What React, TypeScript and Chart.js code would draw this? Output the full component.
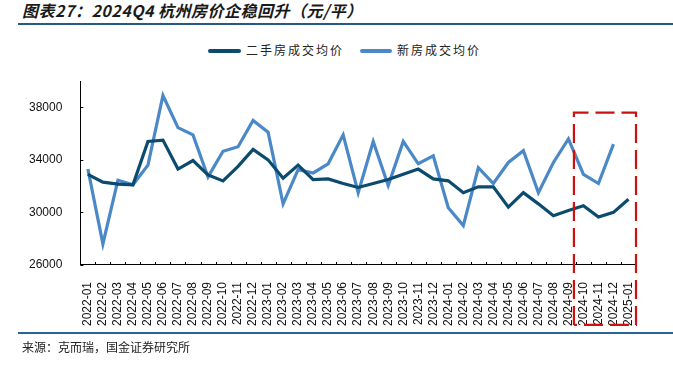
import React, { useEffect, useRef } from "react";
import { Chart, registerables } from "chart.js";

Chart.register(...registerables);

const months: string[] = [
  "2022-01", "2022-02", "2022-03", "2022-04", "2022-05", "2022-06", "2022-07", "2022-08", "2022-09", "2022-10", "2022-11", "2022-12",
  "2023-01", "2023-02", "2023-03", "2023-04", "2023-05", "2023-06", "2023-07", "2023-08", "2023-09", "2023-10", "2023-11", "2023-12",
  "2024-01", "2024-02", "2024-03", "2024-04", "2024-05", "2024-06", "2024-07", "2024-08", "2024-09", "2024-10", "2024-11", "2024-12",
  "2025-01",
];

const secondHand: number[] = [
  32900, 32300, 32150, 32100, 35400, 35500, 33300, 33950, 32850, 32400, 33500, 34800,
  34000, 32600, 33600, 32500, 32550, 32200, 31900, 32200, 32500, 32900, 33300, 32550,
  32400, 31500, 31950, 31950, 30400, 31500, 30650, 29750, 30150, 30500, 29650, 30000,
  31000,
];

const newHome: (number | null)[] = [
  33300, 27600, 32450, 32100, 33600, 38900, 36450, 35900, 32700, 34650, 35000, 37000,
  36100, 30650, 33250, 33000, 33700, 35900, 31500, 35400, 32050, 35400, 33700, 34300,
  30350, 29000, 33400, 32200, 33800, 34700, 31500, 33800, 35600, 32900, 32200, 35200,
  null,
];

const yTicks: number[] = [26000, 30000, 34000, 38000];
const seriesNames: string[] = ["二手房成交均价", "新房成交均价"];
const highlightFrom = "2024-10";
const highlightTopValue = 37600;

const DARK = "#0b4c6e";
const LIGHT = "#4a88c8";
const RED = "#cc1111";

const overlayPlugin = {
  id: "overlay",
  afterDraw(chart: any) {
    const ctx = chart.ctx;
    const xs = chart.scales.x;
    const ys = chart.scales.y;
    const area = chart.chartArea;
    const n = months.length;
    const w = (xs.right - xs.left) / n;
    ctx.save();
    ctx.strokeStyle = "#000";
    ctx.lineWidth = 1;
    ctx.beginPath();
    for (let i = 1; i <= n; i++) {
      const x = Math.round(xs.getPixelForValue(i - 1) + w / 2) + 0.5;
      ctx.moveTo(x, area.bottom);
      ctx.lineTo(x, area.bottom - 3);
    }
    for (const v of yTicks) {
      const y = Math.round(ys.getPixelForValue(v)) + 0.5;
      ctx.moveTo(area.left, y);
      ctx.lineTo(area.left + 3, y);
    }
    ctx.stroke();

    const idx = months.indexOf(highlightFrom);
    const left = (xs.getPixelForValue(idx - 1) + xs.getPixelForValue(idx)) / 2 - 2;
    const right = area.right;
    const top = ys.getPixelForValue(highlightTopValue);
    const bottom = area.bottom + 60;
    ctx.strokeStyle = RED;
    ctx.lineWidth = 2.2;
    ctx.setLineDash([19, 7]);
    ctx.beginPath();
    ctx.moveTo(left, bottom);
    ctx.lineTo(left, top);
    ctx.lineTo(right, top);
    ctx.lineTo(right, bottom);
    ctx.lineTo(left, bottom);
    ctx.stroke();
    ctx.restore();
  },
};

function ChartCanvas() {
  const ref = useRef<HTMLCanvasElement | null>(null);
  useEffect(() => {
    if (!ref.current) return;
    const chart = new Chart(ref.current, {
      type: "line",
      data: {
        labels: months,
        datasets: [
          {
            label: seriesNames[0],
            data: secondHand,
            borderColor: DARK,
            backgroundColor: DARK,
            borderWidth: 3.2,
            pointRadius: 0,
            tension: 0,
          },
          {
            label: seriesNames[1],
            data: newHome,
            borderColor: LIGHT,
            backgroundColor: LIGHT,
            borderWidth: 3.2,
            pointRadius: 0,
            tension: 0,
          },
        ],
      },
      options: {
        animation: false,
        responsive: false,
        devicePixelRatio: 1,
        layout: { padding: { left: 19, right: 37, top: 81, bottom: 33 } },
        plugins: { legend: { display: false }, tooltip: { enabled: false }, title: { display: false } },
        scales: {
          x: {
            type: "category",
            offset: true,
            grid: { display: false },
            border: { display: true, color: "#000", width: 1 },
            ticks: {
              autoSkip: false,
              minRotation: 90,
              maxRotation: 90,
              padding: 9,
              color: "#111",
              font: { family: "'Liberation Sans', Arial, sans-serif", size: 12 },
            },
          },
          y: {
            min: 26000,
            max: 40000,
            grid: { display: false },
            border: { display: true, color: "#000", width: 1 },
            afterBuildTicks: (scale: any) => {
              scale.ticks = yTicks.map((v) => ({ value: v }));
            },
            ticks: {
              padding: 10,
              color: "#111",
              font: { family: "'Liberation Sans', Arial, sans-serif", size: 12 },
              callback: (v: any) => String(v),
            },
          },
        },
      },
      plugins: [overlayPlugin],
    });
    return () => chart.destroy();
  }, []);
  return (
    <canvas
      ref={ref}
      width={673}
      height={368}
      style={{ position: "absolute", left: 0, top: 0, width: 673, height: 368 }}
    />
  );
}

export default function App() {
  const cjk = "'Noto Sans CJK SC', sans-serif";
  return (
    <div
      style={{
        position: "fixed",
        left: 0,
        top: 0,
        width: 673,
        height: 368,
        background: "#fff",
        overflow: "hidden",
      }}
    >
      <div
        style={{
          position: "absolute",
          left: 22,
          top: 0,
          fontFamily: cjk,
          fontWeight: 700,
          fontStyle: "italic",
          fontSize: 16,
          letterSpacing: 0.5,
          lineHeight: "20px",
          color: "#1a1a1a",
          whiteSpace: "nowrap",
        }}
      >
        图表27：2024Q4 杭州房价企稳回升（元/平）
      </div>
      <div style={{ position: "absolute", left: 18, right: 0, top: 23, height: 2, background: "#245a8a" }} />
      <div style={{ position: "absolute", left: 208, top: 49, width: 33, height: 3.5, borderRadius: 2, background: DARK }} />
      <div
        style={{
          position: "absolute",
          left: 246,
          top: 42,
          fontFamily: cjk,
          fontSize: 12,
          lineHeight: "16px",
          letterSpacing: 2,
          color: "#222",
          whiteSpace: "nowrap",
        }}
      >
        {seriesNames[0]}
      </div>
      <div style={{ position: "absolute", left: 360, top: 49, width: 32, height: 3.5, borderRadius: 2, background: LIGHT }} />
      <div
        style={{
          position: "absolute",
          left: 397,
          top: 42,
          fontFamily: cjk,
          fontSize: 12,
          lineHeight: "16px",
          letterSpacing: 2,
          color: "#222",
          whiteSpace: "nowrap",
        }}
      >
        {seriesNames[1]}
      </div>
      <ChartCanvas />
      <div style={{ position: "absolute", left: 18, right: 0, top: 332, height: 2, background: "#2a6496" }} />
      <div
        style={{
          position: "absolute",
          left: 22,
          top: 339,
          fontFamily: cjk,
          fontSize: 12,
          lineHeight: "16px",
          color: "#222",
          whiteSpace: "nowrap",
        }}
      >
        来源：克而瑞，国金证券研究所
      </div>
    </div>
  );
}
